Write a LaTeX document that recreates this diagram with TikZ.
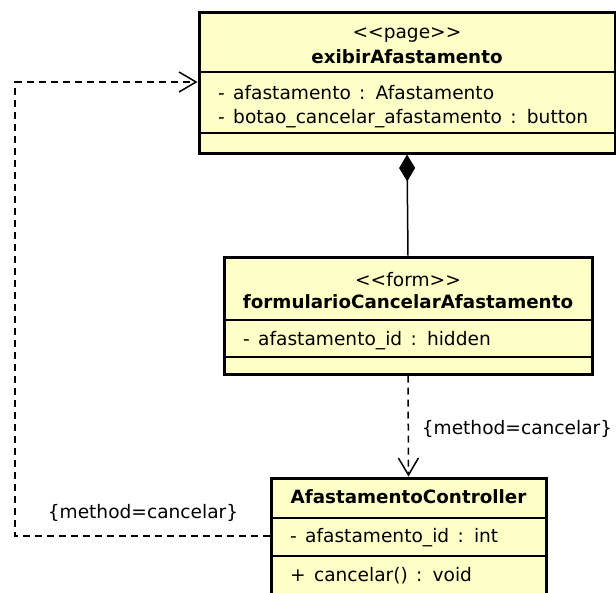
\documentclass[tikz,border=0pt]{standalone}
\usepackage{fontspec}
\newfontfamily\umlfont[WordSpace=1.4]{DejaVu Sans}
\usetikzlibrary{arrows.meta}
\definecolor{umlfill}{HTML}{FFFFC8}
\begin{document}
\begin{tikzpicture}[x=1pt,y=1pt,
  classbox/.style={draw, line width=3pt, fill=umlfill, inner sep=0pt},
  divider/.style={line width=1.5pt},
  txt/.style={inner sep=0pt, anchor=base, font=\umlfont\fontsize{18.6}{20}\selectfont},
  ltxt/.style={txt, anchor=base west},
  btxt/.style={txt, font=\umlfont\bfseries\fontsize{18.3}{20}\selectfont},
  dep/.style={line width=1.5pt, dash pattern=on 7pt off 5pt},
  openhead/.style={-{Straight Barb[length=17pt,width=20pt,line width=1.5pt]}},
]
\useasboundingbox (0,0) rectangle (616,-592);
\clip (0,0) rectangle (616,-592);

% page class
\node[classbox, minimum width=416pt, minimum height=141pt] (page) at (407,-82.5) {};
\draw[divider] (page.west |- 0,-72) -- (page.east |- 0,-72);
\draw[divider] (page.west |- 0,-133) -- (page.east |- 0,-133);
\node[txt] (pageStereo) at (407,-38) {<<page>>};
\node[btxt] (pageName) at (407,-63) {exibirAfastamento};
\node[ltxt] (pageAttrA) at (218,-99) {- afastamento : Afastamento};
\node[ltxt] (pageAttrB) at (218,-123) {- botao\_cancelar\_afastamento : button};

% form class
\node[classbox, minimum width=368pt, minimum height=117pt] (form) at (408,-315.5) {};
\draw[divider] (form.west |- 0,-320) -- (form.east |- 0,-320);
\draw[divider] (form.west |- 0,-357) -- (form.east |- 0,-357);
\node[txt] (formStereo) at (408,-286) {<<form>>};
\node[btxt] (formName) at (408,-308) {formularioCancelarAfastamento};
\node[ltxt] (formAttr) at (243,-345) {- afastamento\_id : hidden};

% controller class
\node[classbox, minimum width=275pt, minimum height=122pt] (ctrl) at (408.5,-539) {};
\draw[divider] (ctrl.west |- 0,-518) -- (ctrl.east |- 0,-518);
\draw[divider] (ctrl.west |- 0,-556) -- (ctrl.east |- 0,-556);
\node[btxt] (ctrlName) at (408.5,-503) {AfastamentoController};
\node[ltxt] (ctrlAttr) at (290,-542) {- afastamento\_id : int};
\node[ltxt] (ctrlOp) at (290,-581) {+ cancelar() : void};

% composition: form is part of page
\draw[line width=1.5pt, -{Diamond[length=27pt,width=16pt]}] (form.north) -- (page.south);

% dependency form -> controller
\draw[dep, openhead] (form.south) -- (ctrl.north);
\node[txt] (depLabelA) at (517,-434) {\{method=cancelar\}};

% dependency controller -> page
\coordinate (bendLow) at (15,-536);
\coordinate (bendHigh) at (15,-82);
\draw[dep, openhead] (ctrl.west |- bendLow) -- (bendLow) -- (bendHigh) -- (page.west |- bendHigh);
\node[txt] (depLabelB) at (143,-518) {\{method=cancelar\}};
\end{tikzpicture}
\end{document}
